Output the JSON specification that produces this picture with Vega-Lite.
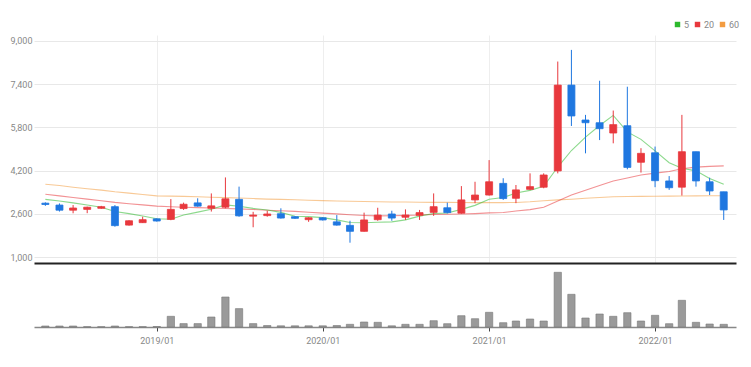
{
  "$schema": "https://vega.github.io/schema/vega-lite/v6.json",
  "padding": {"left": 0, "top": 20, "right": 0, "bottom": 0},
  "background": "white",
  "config": {"view": {"stroke": null}, "font": "Roboto, Lato, sans-serif"},
  "spacing": 5,
  "data": {"values": [
    {"d": "2018/05/01", "o": 3000, "h": 3030, "l": 2900, "c": 2950, "v": 10000, "ma5": 3140, "ma20": 3330, "ma60": 3700},
    {"d": "2018/06/01", "o": 2930, "h": 2990, "l": 2690, "c": 2740, "v": 10000, "ma5": 3080, "ma20": 3270, "ma60": 3650},
    {"d": "2018/07/01", "o": 2740, "h": 2930, "l": 2625, "c": 2820, "v": 10000, "ma5": 3010, "ma20": 3210, "ma60": 3590},
    {"d": "2018/08/01", "o": 2770, "h": 2870, "l": 2630, "c": 2850, "v": 3000, "ma5": 2930, "ma20": 3150, "ma60": 3530},
    {"d": "2018/09/01", "o": 2810, "h": 2900, "l": 2790, "c": 2870, "v": 3000, "ma5": 2846, "ma20": 3090, "ma60": 3480},
    {"d": "2018/10/01", "o": 2870, "h": 2930, "l": 2130, "c": 2170, "v": 10000, "ma5": 2690, "ma20": 3030, "ma60": 3420},
    {"d": "2018/11/01", "o": 2190, "h": 2370, "l": 2170, "c": 2350, "v": 3000, "ma5": 2612, "ma20": 2980, "ma60": 3370},
    {"d": "2018/12/01", "o": 2280, "h": 2500, "l": 2270, "c": 2390, "v": 3000, "ma5": 2526, "ma20": 2935, "ma60": 3320},
    {"d": "2019/01/01", "o": 2420, "h": 2440, "l": 2320, "c": 2340, "v": 5000, "ma5": 2424, "ma20": 2890, "ma60": 3270},
    {"d": "2019/02/01", "o": 2400, "h": 3150, "l": 2370, "c": 2770, "v": 107000, "ma5": 2404, "ma20": 2870, "ma60": 3260},
    {"d": "2019/03/01", "o": 2800, "h": 3020, "l": 2750, "c": 2960, "v": 34000, "ma5": 2562, "ma20": 2850, "ma60": 3250},
    {"d": "2019/04/01", "o": 3010, "h": 3180, "l": 2870, "c": 2890, "v": 34000, "ma5": 2670, "ma20": 2835, "ma60": 3235},
    {"d": "2019/05/01", "o": 2810, "h": 3360, "l": 2690, "c": 2900, "v": 100000, "ma5": 2772, "ma20": 2820, "ma60": 3220},
    {"d": "2019/06/01", "o": 2850, "h": 3950, "l": 2810, "c": 3160, "v": 300000, "ma5": 2936, "ma20": 2805, "ma60": 3205},
    {"d": "2019/07/01", "o": 3140, "h": 3610, "l": 2500, "c": 2530, "v": 184000, "ma5": 2888, "ma20": 2790, "ma60": 3190},
    {"d": "2019/08/01", "o": 2520, "h": 2680, "l": 2110, "c": 2560, "v": 34000, "ma5": 2808, "ma20": 2765, "ma60": 3170},
    {"d": "2019/09/01", "o": 2540, "h": 2720, "l": 2500, "c": 2600, "v": 15000, "ma5": 2750, "ma20": 2740, "ma60": 3150},
    {"d": "2019/10/01", "o": 2610, "h": 2810, "l": 2430, "c": 2450, "v": 12000, "ma5": 2660, "ma20": 2720, "ma60": 3140},
    {"d": "2019/11/01", "o": 2500, "h": 2520, "l": 2420, "c": 2440, "v": 12000, "ma5": 2516, "ma20": 2695, "ma60": 3125},
    {"d": "2019/12/01", "o": 2390, "h": 2480, "l": 2310, "c": 2460, "v": 12000, "ma5": 2502, "ma20": 2665, "ma60": 3110},
    {"d": "2020/01/01", "o": 2460, "h": 2480, "l": 2360, "c": 2380, "v": 12000, "ma5": 2466, "ma20": 2632, "ma60": 3095},
    {"d": "2020/02/01", "o": 2310, "h": 2560, "l": 2170, "c": 2190, "v": 15000, "ma5": 2384, "ma20": 2604, "ma60": 3080},
    {"d": "2020/03/01", "o": 2180, "h": 2350, "l": 1540, "c": 1960, "v": 27000, "ma5": 2286, "ma20": 2570, "ma60": 3070},
    {"d": "2020/04/01", "o": 1960, "h": 2650, "l": 1950, "c": 2380, "v": 50000, "ma5": 2274, "ma20": 2545, "ma60": 3060},
    {"d": "2020/05/01", "o": 2390, "h": 2830, "l": 2350, "c": 2560, "v": 47000, "ma5": 2294, "ma20": 2530, "ma60": 3050},
    {"d": "2020/06/01", "o": 2600, "h": 2720, "l": 2350, "c": 2450, "v": 12000, "ma5": 2308, "ma20": 2536, "ma60": 3045},
    {"d": "2020/07/01", "o": 2480, "h": 2770, "l": 2380, "c": 2560, "v": 27000, "ma5": 2382, "ma20": 2547, "ma60": 3040},
    {"d": "2020/08/01", "o": 2550, "h": 2750, "l": 2380, "c": 2650, "v": 27000, "ma5": 2520, "ma20": 2560, "ma60": 3035},
    {"d": "2020/09/01", "o": 2660, "h": 3360, "l": 2530, "c": 2870, "v": 63000, "ma5": 2618, "ma20": 2586, "ma60": 3030},
    {"d": "2020/10/01", "o": 2830, "h": 3020, "l": 2620, "c": 2650, "v": 33000, "ma5": 2636, "ma20": 2590, "ma60": 3030},
    {"d": "2020/11/01", "o": 2630, "h": 3630, "l": 2610, "c": 3120, "v": 113000, "ma5": 2770, "ma20": 2600, "ma60": 3025},
    {"d": "2020/12/01", "o": 3120, "h": 3790, "l": 3000, "c": 3300, "v": 83000, "ma5": 2918, "ma20": 2615, "ma60": 3020},
    {"d": "2021/01/01", "o": 3300, "h": 4590, "l": 3280, "c": 3790, "v": 147000, "ma5": 3146, "ma20": 2640, "ma60": 3020},
    {"d": "2021/02/01", "o": 3730, "h": 3920, "l": 3120, "c": 3170, "v": 43000, "ma5": 3206, "ma20": 2655, "ma60": 3020},
    {"d": "2021/03/01", "o": 3180, "h": 3670, "l": 3000, "c": 3490, "v": 60000, "ma5": 3374, "ma20": 2710, "ma60": 3025},
    {"d": "2021/04/01", "o": 3510, "h": 4100, "l": 3480, "c": 3610, "v": 80000, "ma5": 3472, "ma20": 2760, "ma60": 3050},
    {"d": "2021/05/01", "o": 3590, "h": 4100, "l": 3550, "c": 4040, "v": 60000, "ma5": 3620, "ma20": 2850, "ma60": 3090},
    {"d": "2021/06/01", "o": 4190, "h": 8230, "l": 4100, "c": 7360, "v": 547000, "ma5": 4334, "ma20": 3080, "ma60": 3120},
    {"d": "2021/07/01", "o": 7360, "h": 8660, "l": 5850, "c": 6220, "v": 327000, "ma5": 4944, "ma20": 3300, "ma60": 3145},
    {"d": "2021/08/01", "o": 6070, "h": 6260, "l": 4840, "c": 5970, "v": 90000, "ma5": 5440, "ma20": 3480, "ma60": 3180},
    {"d": "2021/09/01", "o": 5970, "h": 7520, "l": 5330, "c": 5750, "v": 130000, "ma5": 5868, "ma20": 3650, "ma60": 3210},
    {"d": "2021/10/01", "o": 5590, "h": 6420, "l": 5210, "c": 5900, "v": 107000, "ma5": 6240, "ma20": 3820, "ma60": 3235},
    {"d": "2021/11/01", "o": 5860, "h": 7300, "l": 4250, "c": 4320, "v": 143000, "ma5": 5632, "ma20": 3930, "ma60": 3245},
    {"d": "2021/12/01", "o": 4510, "h": 5030, "l": 4130, "c": 4840, "v": 60000, "ma5": 5356, "ma20": 4040, "ma60": 3250},
    {"d": "2022/01/01", "o": 4860, "h": 5090, "l": 3590, "c": 3830, "v": 117000, "ma5": 4928, "ma20": 4110, "ma60": 3255},
    {"d": "2022/02/01", "o": 3820, "h": 4000, "l": 3490, "c": 3570, "v": 33000, "ma5": 4492, "ma20": 4170, "ma60": 3260},
    {"d": "2022/03/01", "o": 3590, "h": 6260, "l": 3280, "c": 4900, "v": 267000, "ma5": 4292, "ma20": 4270, "ma60": 3265},
    {"d": "2022/04/01", "o": 4900, "h": 4900, "l": 3610, "c": 3820, "v": 47000, "ma5": 4192, "ma20": 4330, "ma60": 3268},
    {"d": "2022/05/01", "o": 3790, "h": 3940, "l": 3300, "c": 3450, "v": 30000, "ma5": 3914, "ma20": 4360, "ma60": 3272},
    {"d": "2022/06/01", "o": 3420, "h": 3420, "l": 2380, "c": 2750, "v": 27000, "ma5": 3698, "ma20": 4375, "ma60": 3275}
  ]},
  "vconcat": [
    {
      "width": 702,
      "height": 228,
      "layer": [
        {
          "transform": [{"fold": ["ma60", "ma20", "ma5"], "as": ["series", "value"]}],
          "mark": {"type": "line", "strokeWidth": 1.1, "opacity": 0.55},
          "encoding": {
            "x": {"field": "d", "type": "temporal",
              "scale": {"domain": [{"year": 2018, "month": 4, "date": 17}, {"year": 2022, "month": 6, "date": 17}]},
              "axis": {"title": null, "labels": false, "ticks": false, "domainColor": "#222", "domainWidth": 2, "grid": true, "gridColor": "#eeeeee",
                "values": [{"year": 2019, "month": 1, "date": 1}, {"year": 2020, "month": 1, "date": 1}, {"year": 2021, "month": 1, "date": 1}, {"year": 2022, "month": 1, "date": 1}]}},
            "y": {"field": "value", "type": "quantitative",
              "scale": {"domain": [790, 9210], "nice": false, "zero": false},
              "axis": {"title": null, "values": [1000, 2600, 4200, 5800, 7400, 9000], "format": ",d", "labelColor": "#888", "labelFontSize": 9, "ticks": false, "domain": false, "gridColor": "#e8e8e8", "labelPadding": 2, "minExtent": 34, "maxExtent": 34}},
            "color": {"field": "series", "type": "nominal",
              "scale": {"domain": ["ma5", "ma20", "ma60"], "range": ["#2db92d", "#e8383d", "#f39c40"]},
              "legend": {"orient": "none", "legendX": 639, "legendY": -15, "direction": "horizontal", "gridAlign": "none", "title": null, "labelExpr": "replace(datum.label, 'ma', '')", "symbolType": "square", "symbolSize": 6, "symbolStrokeWidth": 3, "symbolOpacity": 1, "labelFontSize": 9, "labelColor": "#888", "columnPadding": 0, "labelOffset": 2, "labelLimit": 20}}
          }
        },
        {
          "mark": {"type": "rule", "strokeWidth": 1},
          "encoding": {
            "x": {"field": "d", "type": "temporal"},
            "y": {"field": "l", "type": "quantitative"},
            "y2": {"field": "h"},
            "color": {"condition": {"test": "datum.c > datum.o", "value": "#e8383d"}, "value": "#1f77e0"}
          }
        },
        {
          "mark": {"type": "bar", "width": 7, "strokeWidth": 0.8},
          "encoding": {
            "x": {"field": "d", "type": "temporal"},
            "y": {"field": "o", "type": "quantitative"},
            "y2": {"field": "c"},
            "color": {"condition": {"test": "datum.c > datum.o", "value": "#e8383d"}, "value": "#1f77e0"},
            "stroke": {"condition": {"test": "datum.c > datum.o", "value": "#e8383d"}, "value": "#1f77e0"}
          }
        }
      ]
    },
    {
      "width": 702,
      "height": 59,
      "mark": {"type": "bar", "width": 7.3, "color": "#9a9a9a", "stroke": "#777777", "strokeWidth": 0.6},
      "encoding": {
        "x": {"field": "d", "type": "temporal",
          "scale": {"domain": [{"year": 2018, "month": 4, "date": 17}, {"year": 2022, "month": 6, "date": 17}]},
          "axis": {"title": null, "format": "%Y/%m", "labelColor": "#888", "labelFontSize": 9, "tickColor": "#444", "tickSize": 4, "domainColor": "#888", "domainWidth": 1.5, "grid": false, "labelPadding": 5,
            "values": [{"year": 2019, "month": 1, "date": 1}, {"year": 2020, "month": 1, "date": 1}, {"year": 2021, "month": 1, "date": 1}, {"year": 2022, "month": 1, "date": 1}]}},
        "y": {"field": "v", "type": "quantitative", "scale": {"domain": [0, 590000]}, "axis": null}
      }
    }
  ]
}
